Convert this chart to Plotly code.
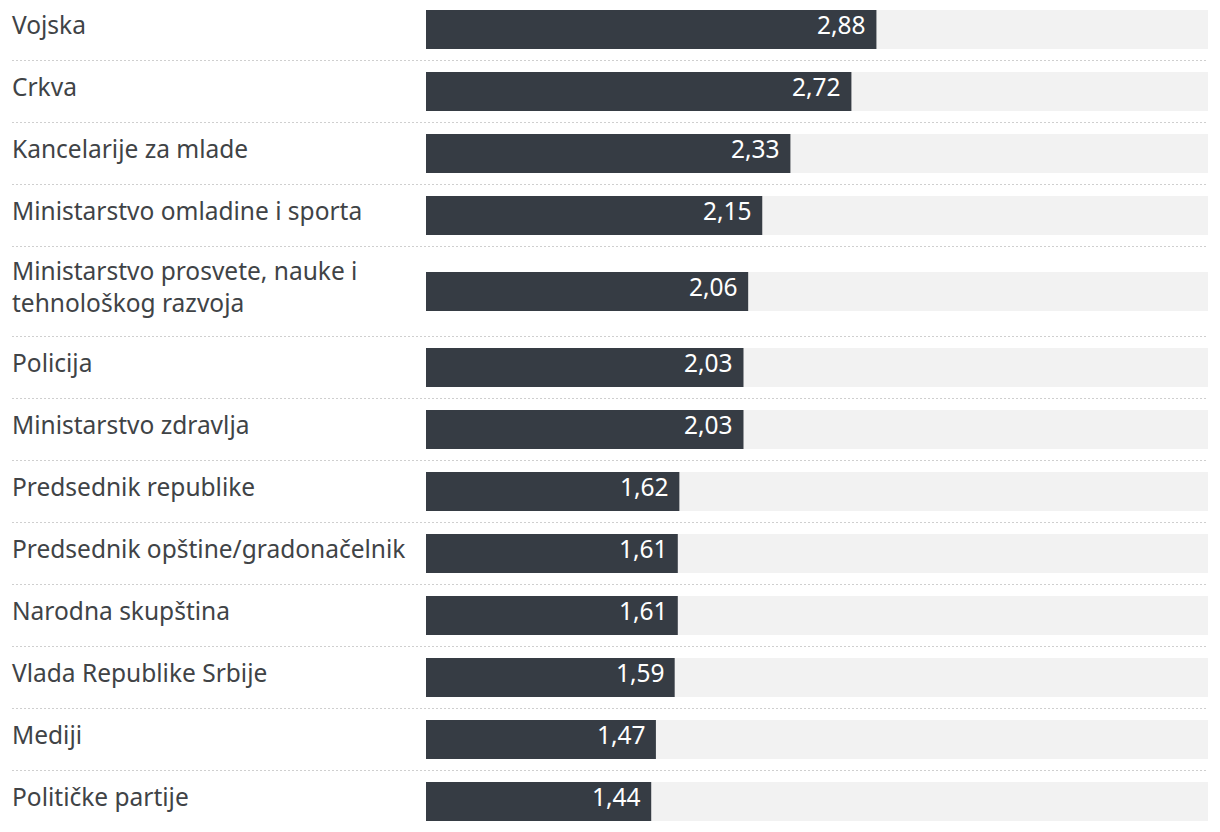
import plotly.graph_objects as go

categories = [
    "Vojska",
    "Crkva",
    "Kancelarije za mlade",
    "Ministarstvo omladine i sporta",
    "Ministarstvo prosvete, nauke i<br>tehnološkog razvoja",
    "Policija",
    "Ministarstvo zdravlja",
    "Predsednik republike",
    "Predsednik opštine/gradonačelnik",
    "Narodna skupština",
    "Vlada Republike Srbije",
    "Mediji",
    "Političke partije",
]
values = [2.88, 2.72, 2.33, 2.15, 2.06, 2.03, 2.03, 1.62, 1.61, 1.61, 1.59, 1.47, 1.44]
scale_max = 5

# page body has an 8px margin; size the figure so it fits the window
OFF = 8
W, H = 1220 - OFF, 832 - OFF
FONT = "Noto Sans"
FSIZE = 24.5
BAR_COLOR = "#363c44"
TRACK_COLOR = "#f2f2f2"
TEXT_COLOR = "#404346"

# row layout (pixel units on a reversed y axis spanning the full height)
base_h, extra_per_line = 62, 28
y_start = -1.5 - OFF
centers, seps = [], []
y = y_start
for c in categories:
    h = base_h + extra_per_line * (c.count("<br>"))
    centers.append(y + h / 2)
    y += h
    seps.append(y)
seps = seps[:-1]

x0_px, x1_px = 426 - OFF, 1208 - OFF
label_x = 9.5 - OFF
line_x0 = 12 - OFF
fig = go.Figure()
fig.add_trace(go.Bar(
    y=centers, x=[scale_max] * len(values), orientation="h",
    marker=dict(color=TRACK_COLOR, line=dict(width=0)),
    width=39, hoverinfo="skip", showlegend=False,
))
fig.add_trace(go.Bar(
    y=centers, x=values, orientation="h",
    marker=dict(color=BAR_COLOR, line=dict(width=0)),
    width=39, showlegend=False,
))

annotations = []
for c, v, yc in zip(categories, values, centers):
    annotations.append(dict(
        x=label_x / W, xref="paper", y=yc - 5, yref="y", text=c, showarrow=False,
        xanchor="left", yanchor="middle", align="left",
        font=dict(family=FONT, size=FSIZE, color=TEXT_COLOR),
    ))
    annotations.append(dict(
        x=v, xref="x", y=yc - 5, yref="y", text=f"{v:.2f}".replace(".", ","),
        showarrow=False, xanchor="right", yanchor="middle", xshift=-8,
        font=dict(family=FONT, size=FSIZE, color="#ffffff"),
    ))

shapes = []
for s in seps:
    shapes.append(dict(
        type="line", xref="paper", yref="y", x0=line_x0 / W, x1=x1_px / W, y0=s, y1=s,
        line=dict(color="#cfcfcf", width=1, dash="2px,2px"),
    ))

fig.update_layout(
    width=W, height=H,
    margin=dict(l=0, r=0, t=0, b=0),
    paper_bgcolor="white", plot_bgcolor="white",
    barmode="overlay",
    xaxis=dict(domain=[x0_px / W, x1_px / W], range=[0, scale_max], visible=False, fixedrange=True),
    yaxis=dict(range=[H, 0], visible=False, fixedrange=True),
    annotations=annotations, shapes=shapes,
    font=dict(family=FONT),
)
fig.write_html("out.html")
